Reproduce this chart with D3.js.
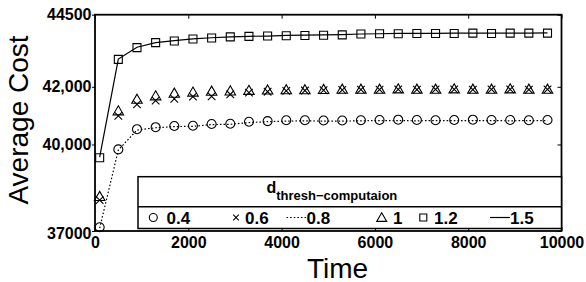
<!DOCTYPE html>
<html>
<head>
<meta charset="utf-8">
<script src="https://cdn.jsdelivr.net/npm/d3@7"></script>
<style>
  body { margin: 0; background: #fff; }
  text { font-family: "Liberation Sans", Arial, sans-serif; fill: #000; }
</style>
</head>
<body>
<svg id="chart" width="586" height="282"></svg>
<script>
var times = [100, 500, 900, 1300, 1700, 2100, 2500, 2900, 3300, 3700, 4100, 4500, 4900,
             5300, 5700, 6100, 6500, 6900, 7300, 7700, 8100, 8500, 8900, 9300, 9700];

var cost04 = [37130, 39830, 40530, 40600, 40640, 40650, 40710, 40720, 40790, 40810, 40840, 40840, 40830,
              40830, 40840, 40850, 40860, 40850, 40840, 40850, 40860, 40850, 40850, 40840, 40850];
var cost06 = [38070, 40990, 41390, 41520, 41580, 41660, 41670, 41740, 41800, 41830, 41860, 41870, 41880,
              41890, 41900, 41900, 41910, 41900, 41910, 41910, 41900, 41910, 41910, 41900, 41910];
var cost08 = [37100, 39810, 40500, 40580, 40620, 40630, 40690, 40700, 40760, 40790, 40810, 40820, 40810,
              40810, 40820, 40830, 40830, 40820, 40830, 40830, 40830, 40830, 40820, 40830, 40830];
var cost10 = [38200, 41170, 41570, 41690, 41780, 41820, 41850, 41860, 41880, 41890, 41900, 41900, 41910,
              41920, 41920, 41920, 41930, 41920, 41920, 41930, 41920, 41920, 41930, 41920, 41920];
var cost12 = [39540, 42950, 43360, 43530, 43590, 43660, 43690, 43730, 43750, 43760, 43770, 43780, 43790,
              43800, 43830, 43840, 43840, 43850, 43850, 43850, 43860, 43850, 43860, 43860, 43860];
var cost15 = [39560, 42960, 43370, 43530, 43600, 43660, 43700, 43730, 43750, 43760, 43780, 43790, 43800,
              43810, 43830, 43840, 43850, 43850, 43850, 43860, 43860, 43860, 43860, 43860, 43870];

var xTicks = [0, 2000, 4000, 6000, 8000, 10000];
var yTicks = [37000, 40000, 42000, 44500];
var yTickLabels = ["37000", "40,000", "42,000", "44500"];
var legendLabels = ["0.4", "0.6", "0.8", "1", "1.2", "1.5"];

(function() {
  var plotLeft = 95, plotRight = 561.5, plotTop = 14.7, plotBottom = 231;

  var x = d3.scaleLinear().domain([0, 10000]).range([plotLeft, plotRight]);
  var y = d3.scaleLinear().domain([37000, 44500]).range([plotBottom, plotTop]);

  var svg = d3.select("#chart");

  // marker shapes
  function circlePath(r) { return d3.symbol().type(d3.symbolCircle).size(Math.PI * r * r)(); }
  function squarePath(s) { return "M" + (-s / 2) + "," + (-s / 2) + "h" + s + "v" + s + "h" + (-s) + "Z"; }
  function trianglePath(s) {
    var h = s * Math.sqrt(3) / 2;
    return "M0," + (-h * 0.55) + "L" + (s / 2) + "," + (h * 0.45) + "L" + (-s / 2) + "," + (h * 0.45) + "Z";
  }
  function timesPath(a) { return "M" + (-a) + "," + (-a) + "L" + a + "," + a + "M" + (-a) + "," + a + "L" + a + "," + (-a); }

  // lines
  var line = d3.line()
      .x(function(d, i) { return x(times[i]); })
      .y(function(d) { return y(d); });

  svg.append("path")
      .attr("d", line(cost08))
      .attr("fill", "none")
      .attr("stroke", "#000")
      .attr("stroke-width", 1.2)
      .attr("stroke-dasharray", "1.6,2");

  svg.append("path")
      .attr("d", line(cost15))
      .attr("fill", "none")
      .attr("stroke", "#000")
      .attr("stroke-width", 1.2);

  function markers(values, path) {
    svg.append("g").selectAll("path")
        .data(values)
      .enter().append("path")
        .attr("transform", function(d, i) { return "translate(" + x(times[i]) + "," + y(d) + ")"; })
        .attr("d", path)
        .attr("fill", "none")
        .attr("stroke", "#000")
        .attr("stroke-width", 1.1);
  }

  markers(cost04, circlePath(4.5));
  markers(cost06, timesPath(3.8));
  markers(cost10, trianglePath(10.5));
  markers(cost12, squarePath(8));

  // axes
  var fmt = d3.format("d");

  svg.append("g")
      .attr("transform", "translate(0," + plotBottom + ")")
      .call(d3.axisBottom(x).tickValues(xTicks).tickFormat(fmt).tickSize(-4).tickPadding(6));

  svg.append("g")
      .attr("transform", "translate(0," + plotTop + ")")
      .call(d3.axisTop(x).tickValues(xTicks).tickFormat("").tickSize(-4));

  var yAxis = svg.append("g")
      .attr("transform", "translate(" + plotLeft + ",0)")
      .call(d3.axisLeft(y).tickValues(yTicks)
        .tickFormat(function(d, i) { return yTickLabels[i]; })
        .tickSize(3).tickPadding(0.5));

  svg.append("g")
      .attr("transform", "translate(" + plotRight + ",0)")
      .call(d3.axisRight(y).tickValues(yTicks).tickFormat("").tickSize(-4));

  svg.selectAll(".domain").remove();
  svg.selectAll(".tick line").attr("stroke", "#000").attr("stroke-width", 1);
  svg.selectAll(".tick text")
      .attr("fill", "#000")
      .style("font-family", "'Liberation Sans', Arial, sans-serif")
      .style("font-size", "16px")
      .style("font-weight", "bold");

  // bottom label sits a little low, as in the original
  yAxis.selectAll(".tick text").filter(function(d) { return d == 37000; }).attr("y", 2);

  svg.append("rect")
      .attr("x", plotLeft)
      .attr("y", plotTop)
      .attr("width", plotRight - plotLeft)
      .attr("height", plotBottom - plotTop)
      .attr("fill", "none")
      .attr("stroke", "#000")
      .attr("stroke-width", 1.8);

  // axis titles
  svg.append("text")
      .attr("x", 337.5)
      .attr("y", 277.5)
      .attr("text-anchor", "middle")
      .style("font-size", "28px")
      .text("Time");

  svg.append("text")
      .attr("transform", "translate(28,120) rotate(-90)")
      .attr("text-anchor", "middle")
      .style("font-size", "28px")
      .text("Average Cost");

  // legend
  var lg = svg.append("g");
  lg.append("rect")
      .attr("x", 138).attr("y", 176.7)
      .attr("width", plotRight - 138).attr("height", 51.8)
      .attr("fill", "#fff").attr("stroke", "#000").attr("stroke-width", 1.5);
  lg.append("line")
      .attr("x1", 138).attr("x2", plotRight)
      .attr("y1", 206.8).attr("y2", 206.8)
      .attr("stroke", "#000").attr("stroke-width", 1.5);

  var title = lg.append("text")
      .attr("x", 266.5).attr("y", 193)
      .style("font-weight", "bold");
  title.append("tspan").style("font-size", "16px").text("d");
  title.append("tspan").attr("dy", 7).style("font-size", "13px").text("thresh\u2212computaion");

  var rowY = 217.5;
  var legendItems = [
    { kind: "circle", mx: 153.3, tx: 166.5 },
    { kind: "times", mx: 236, tx: 245 },
    { kind: "dotted", mx: 286.5, tx: 306.5 },
    { kind: "triangle", mx: 381.7, tx: 393 },
    { kind: "square", mx: 423.3, tx: 434 },
    { kind: "solid", mx: 490, tx: 510 }
  ];

  legendItems.forEach(function(item, i) {
    if (item.kind == "dotted" || item.kind == "solid") {
      lg.append("line")
          .attr("x1", item.mx).attr("x2", item.mx + 20)
          .attr("y1", rowY).attr("y2", rowY)
          .attr("stroke", "#000").attr("stroke-width", 1.2)
          .attr("stroke-dasharray", item.kind == "dotted" ? "1.6,2" : null);
    } else {
      var p = item.kind == "circle" ? circlePath(4)
            : item.kind == "times" ? timesPath(2.8)
            : item.kind == "triangle" ? trianglePath(10)
            : squarePath(7);
      lg.append("path")
          .attr("transform", "translate(" + item.mx + "," + rowY + ")")
          .attr("d", p)
          .attr("fill", "none").attr("stroke", "#000").attr("stroke-width", 1.1);
    }
    lg.append("text")
        .attr("x", item.tx).attr("y", rowY + 6)
        .style("font-size", "17px").style("font-weight", "bold")
        .text(legendLabels[i]);
  });
})();
</script>
</body>
</html>
